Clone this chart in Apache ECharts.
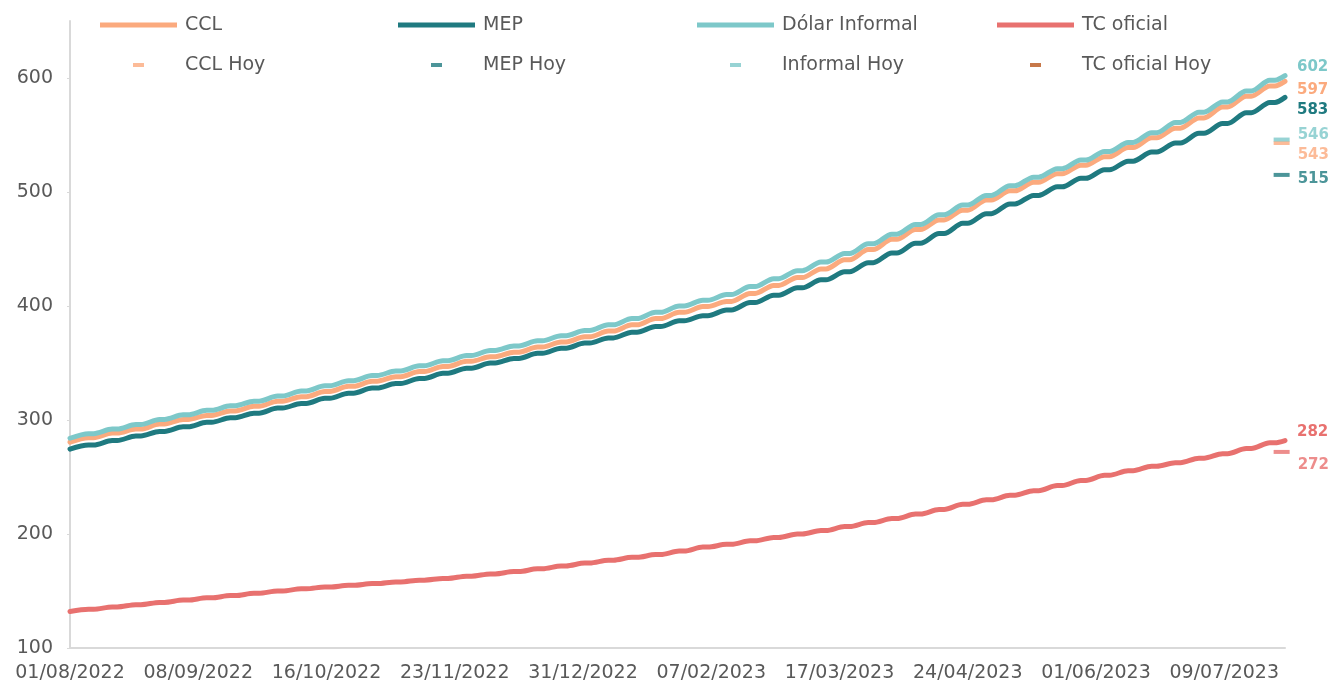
<!DOCTYPE html>
<html>
<head>
<meta charset="utf-8">
<script src="https://cdn.jsdelivr.net/npm/echarts@6/dist/echarts.min.js"></script>
<style>
html,body{margin:0;padding:0;background:#ffffff;}
#chart{width:1334px;height:688px;}
</style>
</head>
<body>
<div id="chart"></div>
<script>
// ---------- DATA ----------
// x tick labels (every 38 days from 01/08/2022)
const xTickLabels = ['01/08/2022','08/09/2022','16/10/2022','23/11/2022','31/12/2022','07/02/2023','17/03/2023','24/04/2023','01/06/2023','09/07/2023'];
const xTickStep = 38;
const yTicks = [100, 200, 300, 400, 500, 600];
// weekly readings (Mondays: day 0,7,...,357) plus the final point (day 360)
const lastDay = 360;
const ccl = [280.5,284.5,288.5,292,296.5,300.5,304,308,312,316.5,
  320.5,325,329.5,334,338,342.5,347,351.5,355.5,359.5,
  364,368.5,373,378,383.5,389,394.5,399.5,404,411,
  418,425,432.5,440.5,449.5,458.5,467,475.5,484,493,
  501,508.5,516,523.5,531,539,547.5,556,565,574.5,
  584,593,597];
const mep = [274.5,278,282,286,290,294,298,302,306,310.5,
  314.5,319,323.5,328,332,336.5,341,345.5,350,354,
  358.5,363,367.5,372,377,382,387,391.5,396.5,403,
  409.5,416,423,430,438,446.5,455,463.5,472.5,481,
  489.5,497,504.5,512,519.5,527,535,543,551.5,560,
  569.5,578.5,583];
const informal = [284,288,292,296,300.5,304.5,308.5,312.5,316.5,321,
  325.5,330,334.5,339,343,347.5,352,356.5,361,365,
  369.5,374,378.5,383.5,389,394.5,400,405,410,417,
  424,431,438.5,446,454.5,463,471.5,480,488.5,497,
  505.5,513,520.5,528,535.5,543.5,552,561,570,579,
  588.5,598,602];
const tcOficial = [132,134,136,138,140,142,144,146,148,150,
  152,153.5,155,156.5,158,159.5,161,163,165,167,
  169.5,172,174.5,177,179.5,182,185,188.5,191,194,
  197,200,203,206.5,210,213.5,217.5,221.5,226,230,
  234,238,242.5,247,251.5,255.5,259.5,262.5,266.5,270.5,
  275,280,282];
// "Hoy" (today) values
const hoyDay = 359;
const cclHoy = [543];
const mepHoy = [515];
const informalHoy = [546];
const tcOficialHoy = [272];

// ---------- STYLE ----------
const FONT = 'DejaVu Sans';
const TXT = '#595959';
const AX = '#D9D9D9';
const COL = {ccl:'#FBAA7E', mep:'#1F7A80', inf:'#7DC8C9', tc:'#E8716F', tcHoyLegend:'#B9561C'};

// weekly readings -> points: rise during the week, short flat at the weekend
function stepped(w){
  const pts = [[0, w[0]]];
  for (let k = 0; k < w.length - 2; k++){
    pts.push([7*k + 5.5, w[k+1]]);
    pts.push([7*k + 7, w[k+1]]);
  }
  pts.push([lastDay, w[w.length-1]]);
  return pts;
}
function xLabel(v){
  const i = Math.round(v / xTickStep);
  return (Math.abs(v - i*xTickStep) < 1e-6 && xTickLabels[i]) ? xTickLabels[i] : '';
}

const lineIcon = 'path://M0,0h0.01v0.01h-0.01zM0,7.5h77v5h-77zM79.99,19.99h0.01v0.01h-0.01z';
const dashIcon = 'path://M0,0h0.01v0.01h-0.01zM33,8h11v4h-11zM79.99,19.99h0.01v0.01h-0.01z';

function lineSeries(name, arr, color, z, dy){
  return {
    type:'line', name:name, data:stepped(arr), symbol:'none', z:z,
    smooth:0.3, smoothMonotone:'x',
    lineStyle:{width:5, color:color, join:'round', cap:'round'},
    itemStyle:{color:color},
    emphasis:{disabled:true},
    endLabel:{show:true, formatter:function(p){return Math.round(p.value[1]);},
      color:color, fontWeight:'bold', fontSize:15, fontFamily:FONT, distance:12, offset:[0,dy]}
  };
}
function hoySeries(name, val, color, dy){
  return {
    type:'scatter', name:name, data:[[hoyDay, val[0]]], symbol:'rect', symbolSize:[16,4], z:6,
    itemStyle:{color:color},
    emphasis:{disabled:true},
    label:{show:true, position:'right', distance:8, offset:[0,dy],
      formatter:function(p){return p.value[1];},
      color:color, fontWeight:'bold', fontSize:15, fontFamily:FONT}
  };
}

const legendCols = [100, 398, 697, 997];
const legendRows = [15, 55];
const legendDefs = [
  {name:'CCL', row:0, col:0, icon:lineIcon},
  {name:'MEP', row:0, col:1, icon:lineIcon},
  {name:'Dólar Informal', row:0, col:2, icon:lineIcon},
  {name:'TC oficial', row:0, col:3, icon:lineIcon},
  {name:'CCL Hoy', row:1, col:0, icon:dashIcon},
  {name:'MEP Hoy', row:1, col:1, icon:dashIcon},
  {name:'Informal Hoy', row:1, col:2, icon:dashIcon},
  {name:'TC oficial Hoy', row:1, col:3, icon:dashIcon, color:COL.tcHoyLegend}
];
const legends = legendDefs.map(function(d){
  const item = {name:d.name};
  if (d.color) item.itemStyle = {color:d.color};
  return {
    left:legendCols[d.col], top:legendRows[d.row], padding:0,
    itemWidth:80, itemHeight:20, icon:d.icon,
    itemStyle:{borderWidth:0},
    data:[item],
    textStyle:{color:TXT, fontSize:19, fontFamily:FONT}
  };
});

const chart = echarts.init(document.getElementById('chart'), null, {renderer:'canvas'});
chart.setOption({
  animation:false,
  backgroundColor:'#ffffff',
  textStyle:{fontFamily:FONT},
  grid:{left:70, right:49, top:21, bottom:40, containLabel:false},
  legend:legends,
  xAxis:{
    type:'value', min:0, max:lastDay, interval:xTickStep,
    axisLine:{show:true, onZero:false, lineStyle:{color:AX, width:2}},
    axisTick:{show:false},
    splitLine:{show:false},
    axisLabel:{formatter:xLabel, color:TXT, fontSize:19, fontFamily:FONT, margin:16,
      customValues:xTickLabels.map(function(_, i){return i*xTickStep;})}
  },
  yAxis:{
    type:'value', min:100, max:650, interval:100,
    axisLine:{show:true, onZero:false, lineStyle:{color:AX, width:2}},
    axisTick:{show:true, length:3, lineStyle:{color:AX, width:1}, customValues:yTicks},
    splitLine:{show:false},
    axisLabel:{color:TXT, fontSize:19, fontFamily:FONT, margin:17, customValues:yTicks}
  },
  series:[
    lineSeries('CCL', ccl, COL.ccl, 3, 9),
    lineSeries('MEP', mep, COL.mep, 3, 13),
    lineSeries('Dólar Informal', informal, COL.inf, 4, -9),
    lineSeries('TC oficial', tcOficial, COL.tc, 3, -8),
    hoySeries('CCL Hoy', cclHoy, COL.ccl, 12),
    hoySeries('MEP Hoy', mepHoy, COL.mep, 4),
    hoySeries('Informal Hoy', informalHoy, COL.inf, -4),
    hoySeries('TC oficial Hoy', tcOficialHoy, COL.tc, 13)
  ]
});
</script>
</body>
</html>
